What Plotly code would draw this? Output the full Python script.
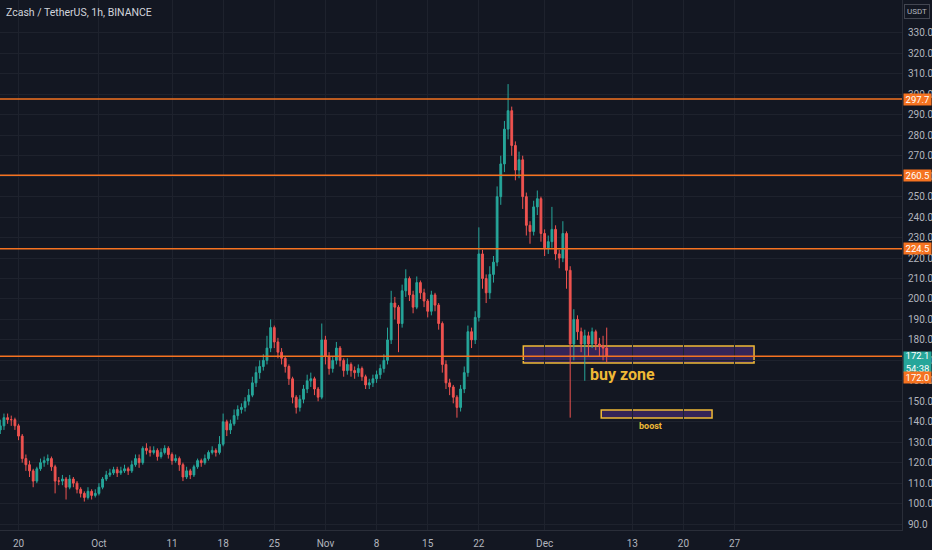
import pandas as pd
import plotly.graph_objects as go

# ---------------- data (12h aggregates) ----------------
start_time = "2021-09-17 12:00"

opens = [136,138,142,141,141,138,133,122,119,116,111,117,120,121,122,118,111,111,112,108,
         112,110,107,105,103,106,104,105,108,112,114,115,116.6,115,116,117,116,119,122,120,
         127,126,125,126,123,125,127,124,121,122,119,113,116,114,118,121,120,122,125,126,
         125,129,140,136,139,143,146,147,150,153,159,164,167,170,176,186,179,174,171,167,
         161,152,147,151,156,160,161,156,152,180,172,166,170,176,170,165,168,165,164,166,
         162,158,159,161,163,166,170,180,198,196,188,204,210,202,196,208,203,199,194,202,
         197,188,168,159,157,152,147,156,164,184,180,191,222,210,203,212,218,250,266,283,
         292,275,263,268,250,236,233,245,249,232,225,228,234,222,220,232,214,178,190,184,
         178,182,178,184,178,177,176]
closes = [138,142,141,141,138,133,122,119,116,111,117,120,121,122,118,111,111,112,108,112,
          110,107,105,103,106,104,105,108,112,114,115,116.6,115,116,117,116,119,122,120,127,
          126,125,126,123,125,127,124,121,122,119,113,116,114,118,121,120,122,125,126,125,
          129,140,136,139,143,146,147,150,153,159,164,167,170,176,186,179,174,171,167,161,
          152,147,151,156,160,161,156,152,180,172,166,170,176,170,165,168,165,164,166,162,
          158,159,161,163,166,170,180,198,196,188,204,210,202,196,208,203,199,194,202,197,
          188,168,159,157,152,147,156,164,184,180,191,222,210,203,212,218,250,266,283,292,
          275,263,268,250,236,233,245,249,232,225,228,234,222,220,232,214,178,190,184,178,
          182,178,184,178,177,176,172.1]
highs = [141,144,144,143,142,139,134,124,121,117,118,122,123,124,123,119,113,114,113,114,
         113,111,108,106,108,107,107,110,113,116,117,118,118,118,119,118,121,124,124,128,
         129.5,128,128,127,127,128.5,128,125,124,123,120,118,117,119,122,122,124,126,128,127,
         133,144,141,141,146,148,149,152,156,162,167,170,173,182,190,187,181,176,172,168,
         162,153,153,158,163,164,162,157,188,182,174,172,179,177,171,171,169,167,168,167,
         163,161,163,165,168,173,186,204,201,197,207,214.5,211,204,211,209,205,200,204,203,
         198,189,170,161,158,153,158,167,187,186,194,235,224,212,216,221,255,270,287,305,
         294,277,272,270,252,238,248,253,250,234,231,245,236,224,238,233,216,195,192,186,
         185,184,186,185,181,182,186]
lows = [134,136,139,138,136,131,120,116,113,108,110,116,118,119,116,105,109,109,102,107,
        108,105,103,101,102,102,103,104,107,111,113,114,113,114,115,114,115,118,117.5,119,
        124,123,124,121,122,124,122,119,120,116,111,112,112,113,117,118,119,121,124,123,
        124,128,133,134,138,141,144,145,148,152,157,161,165,168,174,176,171,168,164,158,
        149,144,145,149,154,157,153,150,151,168,163,164,168,167,162,163,162,161,162,160,
        156,156,157,159,161,164,168,178,190,174,186,201,199,193,195,200,196,191,192,194,
        185,164,156,153,149,142,145,154,162,176,178,189,205,198,200,208,216,246,262,278,
        270,258,259,244,231,227,231,241,228,221,222,225,219,215,218,205,142,170,180,174,
        160,172,176,175,172,170,169]

level_lines = [297.7, 260.5, 224.5, 172.0]
last_price = 172.1
countdown = "54:38"

buy_zone = {"x0": "2021-11-28 02:00", "x1": "2021-12-29 16:00", "y0": 168.7, "y1": 177.0}
boost_zone = {"x0": "2021-12-08 18:00", "x1": "2021-12-23 22:00", "y0": 141.8, "y1": 145.7}

x_tick_dates = ["2021-09-20", "2021-10-01", "2021-10-11", "2021-10-18", "2021-10-25",
                "2021-11-01", "2021-11-08", "2021-11-15", "2021-11-22", "2021-12-01",
                "2021-12-13", "2021-12-20", "2021-12-27"]
x_tick_text = ["20", "Oct", "11", "18", "25", "Nov", "8", "15", "22", "Dec", "13", "20", "27"]
y_ticks = list(range(90, 331, 10))

# ---------------- styling ----------------
BG = "#131722"
GRID = "#1e222d"
AXIS_TXT = "#b2b5be"
UP = "#26a69a"
DOWN = "#ef5350"
ORANGE = "#f57321"
GOLD = "#efb936"
FONT = "Roboto"

times = pd.date_range(start_time, periods=len(closes), freq="12h")

fig = go.Figure()
fig.add_trace(go.Candlestick(
    x=times, open=opens, high=highs, low=lows, close=closes,
    increasing=dict(line=dict(color=UP, width=1), fillcolor=UP),
    decreasing=dict(line=dict(color=DOWN, width=1), fillcolor=DOWN),
    whiskerwidth=0, hoverinfo="skip", showlegend=False,
))

shapes = []
for zone in (buy_zone, boost_zone):
    shapes.append(dict(type="rect", xref="x", yref="y", layer="below",
                       x0=zone["x0"], x1=zone["x1"], y0=zone["y0"], y1=zone["y1"],
                       fillcolor="rgba(125,65,200,0.33)",
                       line=dict(color=GOLD, width=1.5)))
for lv in level_lines:
    shapes.append(dict(type="line", xref="paper", yref="y", x0=0, x1=1, y0=lv, y1=lv,
                       layer="above", line=dict(color=ORANGE, width=1.5)))

annotations = []
# price labels on the right scale
label_x = 1.0168
for lv in level_lines[:3]:
    annotations.append(dict(xref="paper", yref="y", x=label_x, y=lv, text=f"{lv:.1f}",
                            showarrow=False, xanchor="center", yanchor="middle",
                            bgcolor=ORANGE, width=27, height=11, borderpad=0,
                            font=dict(family=FONT, size=9.5, color="white")))
annotations.append(dict(xref="paper", yref="y", x=label_x, y=last_price,
                        text=f"{last_price:.1f}<br>{countdown}", showarrow=False,
                        xanchor="center", yanchor="middle", yshift=-5.7,
                        bgcolor=UP, width=27, height=20, borderpad=0,
                        font=dict(family=FONT, size=9.5, color="white")))
annotations.append(dict(xref="paper", yref="y", x=label_x, y=level_lines[3],
                        text=f"{level_lines[3]:.1f}", showarrow=False,
                        xanchor="center", yanchor="middle", yshift=-21,
                        bgcolor=ORANGE, width=27, height=11, borderpad=0,
                        font=dict(family=FONT, size=9.5, color="white")))
# USDT currency box
annotations.append(dict(xref="paper", yref="paper", x=1.0168, y=0.979, text="USDT",
                        showarrow=False, xanchor="center", yanchor="middle",
                        bordercolor="#434651", borderwidth=1, borderpad=2, bgcolor=BG,
                        font=dict(family=FONT, size=8, color=AXIS_TXT)))
# title
annotations.append(dict(xref="paper", yref="paper", x=0.004, y=0.977,
                        text="Zcash / TetherUS, 1h, BINANCE", showarrow=False,
                        xanchor="left", yanchor="middle",
                        font=dict(family=FONT, size=10.5, color="#d1d4dc")))
# drawing texts
annotations.append(dict(xref="x", yref="y", x="2021-12-06 22:00", y=163.3, text="buy zone",
                        showarrow=False, xanchor="left", yanchor="middle",
                        font=dict(family=FONT, size=16, color=GOLD, weight="bold")))
annotations.append(dict(xref="x", yref="y", x="2021-12-15 12:00", y=137.9, text="boost",
                        showarrow=False, xanchor="center", yanchor="middle",
                        font=dict(family=FONT, size=9, color=GOLD, weight="bold")))

fig.update_layout(
    width=932, height=550,
    margin=dict(l=0, r=30, t=0, b=20, autoexpand=False),
    paper_bgcolor=BG, plot_bgcolor=BG,
    shapes=shapes, annotations=annotations,
    showlegend=False, hovermode=False,
    font=dict(family=FONT, color=AXIS_TXT, size=10),
    xaxis=dict(type="date", range=["2021-09-17 11:00", "2022-01-18 22:00"],
               rangeslider=dict(visible=False),
               tickvals=x_tick_dates, ticktext=x_tick_text,
               tickfont=dict(family=FONT, size=10, color=AXIS_TXT),
               showgrid=True, gridcolor=GRID, gridwidth=1, zeroline=False,
               showline=True, linecolor="#2a2e39", linewidth=1,
               ticks="", ticklabelstandoff=4, fixedrange=True),
    yaxis=dict(side="right", range=[87.1, 346.1],
               tickvals=y_ticks, ticktext=[f"{v:.1f}" for v in y_ticks],
               tickfont=dict(family=FONT, size=10, color=AXIS_TXT),
               showgrid=True, gridcolor=GRID, gridwidth=1, zeroline=False,
               showline=True, linecolor="#2a2e39", linewidth=1,
               ticks="", ticklabelstandoff=3, automargin=False, fixedrange=True),
)

fig.write_html("out.html", config={"displayModeBar": False},
               post_script="document.body.style.margin='0';"
                           "document.body.style.overflow='hidden';"
                           "document.body.style.background='#131722';")
